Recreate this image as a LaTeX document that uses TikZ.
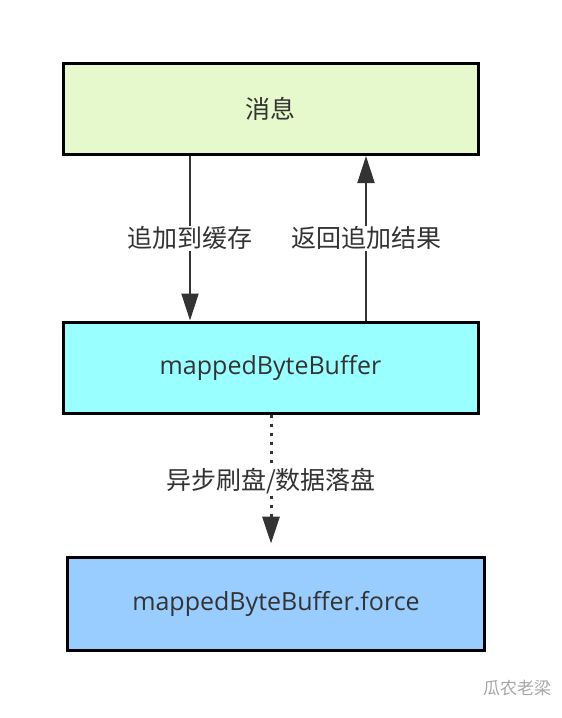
\documentclass[tikz,border=0pt]{standalone}
\usepackage{fontspec}
\setmainfont{Open Sans}
\newfontfamily\cjk{Noto Sans CJK SC}
\usepackage{tikz}
\usetikzlibrary{arrows.meta}
\usetikzlibrary{calc}
\usepackage{xcolor}
\definecolor{msggreen}{HTML}{E6F9CC}
\definecolor{bufcyan}{HTML}{99FFFF}
\definecolor{forceblue}{HTML}{99CCFF}
\definecolor{txtgray}{HTML}{333333}

\tikzset{
  box/.style={draw=black, line width=3pt, minimum width=415pt, minimum height=91pt,
    inner sep=0pt, text=txtgray, font=\fontsize{25}{30}\selectfont},
  arr/.style={draw=txtgray, line width=2pt, -{Triangle[width=17pt,length=27pt]}},
  lbl/.style={fill=white, text=txtgray, inner sep=1pt, font=\cjk\fontsize{25}{30}\selectfont}
}

\begin{document}
\begin{tikzpicture}[x=1pt,y=-1pt]
    \useasboundingbox (0,0) rectangle (562,718);
    %\draw[step=50, gray,very thin] (0,0) grid (562,718);
    \begin{scope}
    \node[box, fill=msggreen] (msg) at (270.5,109) {\cjk 消息};
    \node[box, fill=bufcyan] (buf) at (270.5,367.5) {mappedByteBuffer};
    \node[box, fill=forceblue, minimum width=417pt, minimum height=93pt] (force) at (276,603.5) {mappedByteBuffer.force};
    \end{scope}
    \coordinate (dn) at (190,0);
    \coordinate (up) at (366,0);
    \coordinate (fl) at (271,0);
    \begin{scope}
    \draw[arr] (msg.south -| dn) -- (buf.north -| dn)
        node[lbl, midway] {追加到缓存};
    \draw[arr] (buf.north -| up) -- (msg.south -| up)
        node[lbl, midway] {返回追加结果};
    \draw[arr, line width=3pt, dash pattern=on 3pt off 6pt, shorten >=12pt]
        (buf.south -| fl) -- (force.north -| fl)
        node[lbl, pos=0.47] {异步刷盘/数据落盘};
    \end{scope}
    \node[text=gray!70, font=\cjk\itshape\fontsize{17}{20}\selectfont] (mark) at (517,688) {瓜农老梁};
\end{tikzpicture}
\end{document}
